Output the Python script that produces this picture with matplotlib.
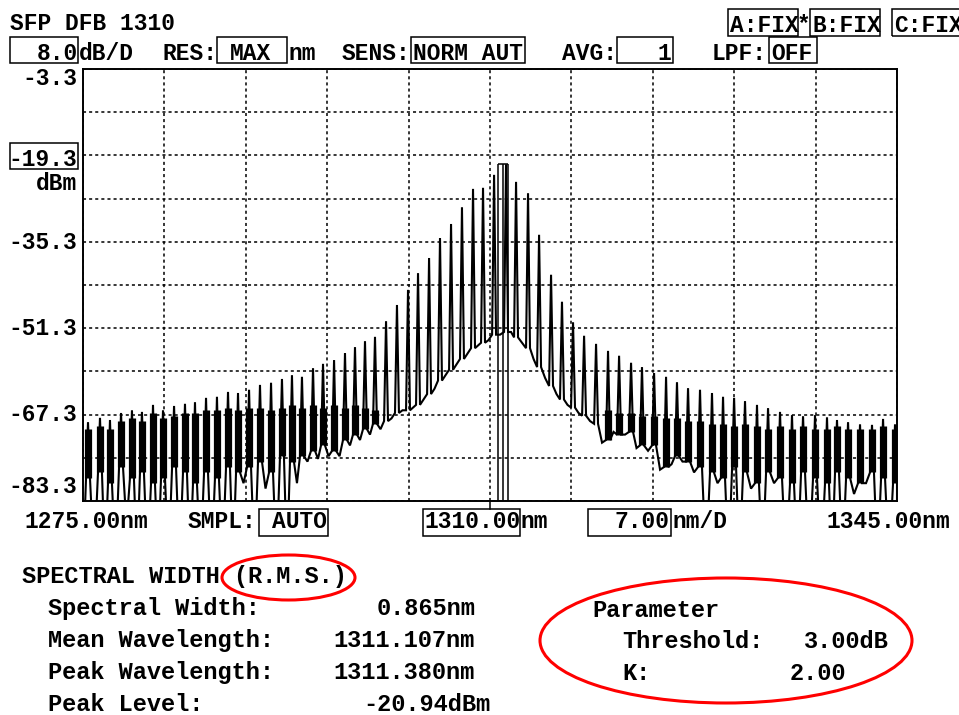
import matplotlib
matplotlib.use("Agg")
import matplotlib.pyplot as plt
from matplotlib.patches import Rectangle, Ellipse
import numpy as np

# ---- data ----
x_start, x_stop = 1275.0, 1345.0      # nm
ref_level, db_per_div = -3.3, 8.0      # dBm, dB/D

# longitudinal mode wavelengths (nm)
mode_wl = [1275.43, 1276.46, 1277.32, 1278.27, 1279.21, 1280.07, 1281.02, 1281.88,
           1282.83, 1283.77, 1284.63, 1285.58, 1286.52, 1287.47, 1288.33, 1289.28,
           1290.22, 1291.17, 1292.11, 1292.97, 1293.83, 1294.78, 1295.64, 1296.59,
           1297.53, 1298.39, 1299.25, 1300.11, 1301.06, 1302.00, 1302.95, 1303.81,
           1304.76, 1305.70, 1306.65, 1307.59, 1308.54, 1309.40, 1310.35, 1311.38,
           1312.24, 1313.27, 1314.22, 1315.25, 1316.19, 1317.14, 1318.09, 1319.12,
           1320.15, 1321.10, 1322.13, 1323.07, 1324.11, 1325.14, 1326.08, 1327.03,
           1328.06, 1329.09, 1330.04, 1330.99, 1331.93, 1332.96, 1333.91, 1334.94,
           1335.97, 1336.92, 1337.95, 1338.98, 1339.84, 1340.79, 1341.82, 1342.85,
           1343.80, 1344.83]

# peak level of each mode (dBm)
mode_peak = [-68.7, -67.9, -68.3, -67.0, -66.5, -66.8, -65.5, -66.5, -65.7, -65.3,
             -65.0, -64.2, -64.0, -63.1, -63.3, -62.7, -61.8, -61.4, -60.7, -60.0,
             -60.3, -58.7, -57.9, -57.2, -55.9, -54.8, -53.7, -52.9, -50.0, -47.0,
             -44.2, -41.1, -38.3, -34.6, -32.0, -28.9, -25.5, -25.3, -22.9, -20.94,
             -24.2, -26.3, -34.0, -41.4, -46.4, -50.2, -52.7, -54.2, -55.5, -56.4,
             -57.7, -58.5, -59.6, -60.3, -61.3, -62.4, -62.7, -63.3, -64.0, -64.2,
             -64.8, -65.5, -66.1, -66.8, -67.4, -67.6, -67.4, -67.8, -68.3, -68.7,
             -69.1, -69.2, -68.1, -69.1]

# level where each mode's flanks end (dBm)
mode_foot = [-79, -78, -80, -77, -79, -78, -80, -79, -77, -78, -80, -78, -79, -77, -78,
             -77, -76, -78, -75, -76, -75, -74, -73, -74, -72, -71, -70, -69,
             -68.5, -67, -66.5, -65.5, -63.5, -61, -59, -57, -55, -54, -52.5,
             -52, -53, -55, -58.5, -62, -64.5, -66, -67.5, -69,
             -72, -71, -70.5, -73, -73, -77, -75, -76, -77, -78, -79, -77, -78, -80,
             -78, -79, -80, -78, -79, -80, -78, -79, -80, -78, -79, -80]

# top of the noisy black band around weak modes (dBm), nan = clean mode
nan = np.nan
mode_fuzz = [-70, -69.5, -70, -68.5, -68, -68.5, -67, -68, -67.5, -67, -67, -66.5,
             -66.5, -66, -66.5, -66, -66, -66.5, -66, -65.5, -66, -65.5, -66, -65.5,
             -66, -65.5, -66, -66.5,
             nan, nan, nan, nan, nan, nan, nan, nan, nan, nan, nan, nan, nan, nan,
             nan, nan, nan, nan, nan, nan,
             -66.5, -67, -67, -67.5, -67.5, -68, -68, -68.5, -68.5,
             -69, -69, -69.5, -69, -69.5, -70, -69.5, -70, -69.5, -70, -70, -69.5,
             -70, -70, -70, -69.5, -70]

# minimum between neighbouring modes (dBm), below screen where it drops out
gap_min = [-95, -95, -95, -88, -95, -95, -95, -95, -95, -95, -95, -95, -95, -95,
           -80, -95, -81, -95, -95, -80,
           -76, -75.5, -75, -75, -73, -72, -71, -70,
           -68, -66.5, -66, -64.5, -62.5, -60, -58, -56, -54.5, -53.5, -52.5,
           -52, -54, -57, -60.5, -63.5, -65.5, -67, -68.5, -72.5, -70.5, -71,
           -73.5, -74, -77.5, -76.5, -76, -78, -95, -80, -95, -95, -81, -95, -80,
           -95, -95, -95, -95, -95, -95, -82, -80, -95, -95]

# analysis results
spec_width = 0.865
mean_wl = 1311.107
peak_wl = 1311.380
peak_level = -20.94

W, H = 959, 715
FONT = ["Liberation Mono", "DejaVu Sans Mono"]

fig = plt.figure(figsize=(W / 100, H / 100), dpi=100)
fig.patch.set_facecolor("white")


def label(x, y, s, ha="left", size=16.5):
    fig.text(x / W, 1 - y / H, s, ha=ha, va="baseline", family=FONT,
             weight="bold", size=size, color="black")


def box(x0, y0, x1, y1):
    fig.add_artist(Rectangle((x0 / W, 1 - y1 / H), (x1 - x0) / W, (y1 - y0) / H,
                             transform=fig.transFigure, fill=False, lw=1.1,
                             ec="black"))


def ring(cx, cy, w, h):
    fig.add_artist(Ellipse((cx / W, 1 - cy / H), w / W, h / H,
                           transform=fig.transFigure, fill=False, lw=2.2,
                           ec="#ff0000"))


# ---- trace area ----
ax = fig.add_axes([83 / W, 1 - 501 / H, (897 - 83) / W, (501 - 69) / H])
bottom = ref_level - 10 * db_per_div
ax.set_xlim(x_start, x_stop)
ax.set_ylim(bottom, ref_level)
ax.set_xticks(np.linspace(x_start, x_stop, 11))
ax.set_yticks(np.linspace(bottom, ref_level, 11))
ax.tick_params(length=0, labelbottom=False, labelleft=False)
ax.grid(True, color="black", lw=1.1, ls=(0, (2, 2)))
ax.set_axisbelow(True)
for sp in ax.spines.values():
    sp.set_linewidth(1.4)
    sp.set_zorder(5)

hw = 0.17  # half width of a mode at its foot (nm)
xs, ys = [x_start], [gap_min[0]]
for i, (wl, pk, ft) in enumerate(zip(mode_wl, mode_peak, mode_foot)):
    xs += [wl - hw, wl, wl + hw]
    ys += [ft, pk, ft]
    if i < len(gap_min):
        xs.append((wl + mode_wl[i + 1]) / 2)
        ys.append(gap_min[i])
xs.append(x_stop)
ys.append(gap_min[-1])
ax.plot(xs, ys, color="black", lw=1.5, zorder=3, solid_joinstyle="miter")

wl_arr = np.array(mode_wl)
fuzz = np.array(mode_fuzz)
foot = np.array(mode_foot, dtype=float)
m = ~np.isnan(fuzz)
ax.vlines(wl_arr[m], foot[m], fuzz[m], color="black", lw=5.2, zorder=3)

# spectral width marker box
lo_wl, hi_wl = mean_wl - spec_width / 2, mean_wl + spec_width / 2
ax.vlines([lo_wl, mean_wl, hi_wl], bottom, peak_level, color="black", lw=1.1, zorder=4)
ax.hlines(peak_level, lo_wl, hi_wl, color="black", lw=1.1, zorder=4)

# centre tick below the frame
fig.add_artist(plt.Line2D([490 / W, 490 / W], [1 - 501 / H, 1 - 509 / H],
                          transform=fig.transFigure, color="black", lw=1.1))

# ---- header ----
label(10, 30, "SFP DFB 1310")
box(728, 9, 798, 36); label(730, 32, "A:FIX")
label(797, 32, "*")
box(810, 9, 880, 36); label(812, 32, "B:FIX")
box(892, 9, 966, 36); label(894, 32, "C:FIX")

box(10, 37, 78, 63); label(78, 60, "8.0", ha="right"); label(79, 60, "dB/D")
label(162, 60, "RES:")
box(217, 37, 287, 63); label(230, 60, "MAX"); label(288, 60, "nm")
label(342, 60, "SENS:")
box(411, 37, 525, 63); label(413, 60, "NORM AUT")
label(562, 60, "AVG:")
box(617, 37, 673, 63); label(671, 60, "1", ha="right")
label(712, 60, "LPF:")
box(769, 37, 817, 63); label(771, 60, "OFF")

# ---- level scale ----
label(77, 85, "-3.3", ha="right")
box(10, 143, 78, 169); label(77, 166, "-19.3", ha="right")
label(77, 190, "dBm", ha="right")
label(77, 249, "-35.3", ha="right")
label(77, 335, "-51.3", ha="right")
label(77, 421, "-67.3", ha="right")
label(77, 493, "-83.3", ha="right")

# ---- wavelength scale ----
label(25, 528, f"{x_start:.2f}nm")
label(188, 528, "SMPL:")
box(259, 509, 328, 536); label(272, 528, "AUTO")
box(423, 509, 520, 536); label(425, 528, f"{(x_start + x_stop) / 2:.2f}")
label(521, 528, "nm")
box(588, 509, 671, 536); label(670, 528, "7.00", ha="right")
label(672, 528, "nm/D")
label(950, 528, f"{x_stop:.2f}nm", ha="right")

# ---- results ----
label(22, 583, "SPECTRAL WIDTH (R.M.S.)", size=17)
label(48, 615, "Spectral Width:", size=17)
label(475, 615, f"{spec_width:.3f}nm", ha="right", size=17)
label(48, 647, "Mean Wavelength:", size=17)
label(475, 647, f"{mean_wl:.3f}nm", ha="right", size=17)
label(48, 679, "Peak Wavelength:", size=17)
label(475, 679, f"{peak_wl:.3f}nm", ha="right", size=17)
label(48, 711, "Peak Level:", size=17)
label(490, 711, f"{peak_level:.2f}dBm", ha="right", size=17)

label(592, 617, "Parameter", size=17)
label(622, 648, "Threshold:", size=17)
label(889, 648, "3.00dB", ha="right", size=17)
label(622, 680, "K:", size=17)
label(846, 680, "2.00", ha="right", size=17)

ring(288.5, 577.5, 133, 45)
ring(726, 640.5, 372, 125)

fig.savefig("out.png", dpi=100, facecolor="white")
